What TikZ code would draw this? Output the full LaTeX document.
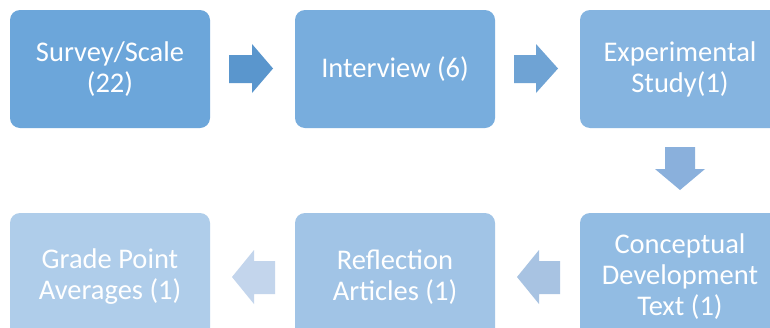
\documentclass[tikz,border=0pt]{standalone}
\usepackage{fontspec}
\setmainfont{Carlito}
\definecolor{bA}{HTML}{6CA6DA}
\definecolor{bB}{HTML}{78ADDD}
\definecolor{bC}{HTML}{85B4E0}
\definecolor{bD}{HTML}{92BCE3}
\definecolor{bE}{HTML}{A1C4E6}
\definecolor{bF}{HTML}{AFCDEA}
\definecolor{aA}{HTML}{5A96CD}
\definecolor{aB}{HTML}{6FA3D4}
\definecolor{aC}{HTML}{8AB0DC}
\definecolor{aD}{HTML}{A8C3E2}
\definecolor{aE}{HTML}{C3D5EC}
\tikzset{
  box/.style={rectangle, rounded corners=10pt, minimum width=200pt, minimum height=118pt,
    inner sep=0pt, text=white, align=center, font=\fontsize{28.5}{31}\selectfont},
  lowbox/.style={box, minimum height=128pt}
}
\begin{document}
\begin{tikzpicture}[x=1pt,y=-1pt]
\useasboundingbox (0,0) rectangle (770,327);
\clip (0,0) rectangle (770,327);
\fill[white] (0,0) rectangle (770,327);
\node[box, fill=bA] (n1) at (110,69) {Survey/Scale\\(22)};
\node[box, fill=bB] (n2) at (395,69) {Interview (6)};
\node[box, fill=bC] (n3) at (680,69) {Experimental\\Study(1)};
\node[lowbox, fill=bD] (n4) at (680,277) {Conceptual\\Development\\Text (1)};
\node[lowbox, fill=bE] (n5) at (395,277) {Reflection\\Articles (1)};
\node[lowbox, fill=bF] (n6) at (110,277) {Grade Point\\Averages (1)};
% right arrows
\fill[aA] (229,55) -- (252,55) -- (252,44) -- (273,68.5) -- (252,93) -- (252,83) -- (229,83) -- cycle;
\fill[aB] (514,55) -- (536,55) -- (536,44) -- (558,68.5) -- (536,93) -- (536,83) -- (514,83) -- cycle;
% down arrow
\fill[aC] (665,147) -- (695,147) -- (695,169) -- (705,169) -- (680,190) -- (655,169) -- (665,169) -- cycle;
% left arrows
\fill[aD] (560,261) -- (539,261) -- (539,250) -- (517,277) -- (539,304) -- (539,294) -- (560,294) -- cycle;
\fill[aE] (275,261) -- (254,261) -- (254,250) -- (232,277) -- (254,304) -- (254,294) -- (275,294) -- cycle;
\end{tikzpicture}
\end{document}
